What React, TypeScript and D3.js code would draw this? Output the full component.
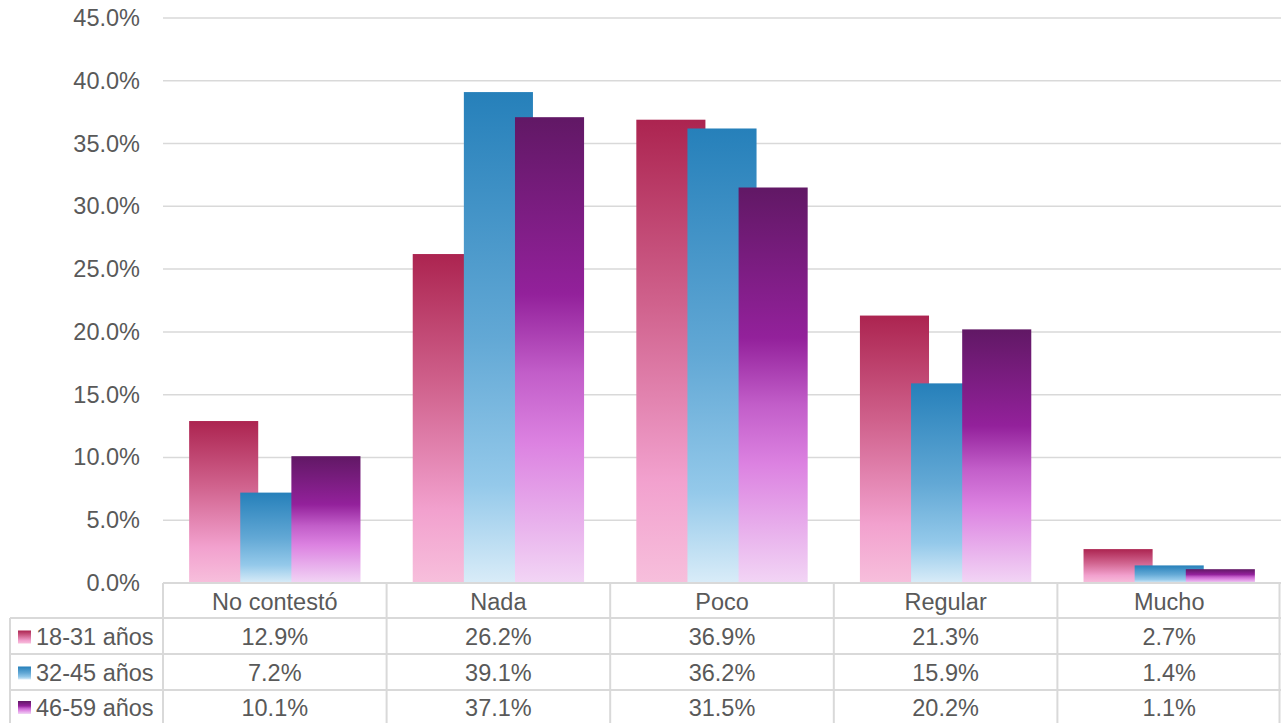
import React, { useEffect } from "react";
import * as d3 from "d3";

const categories = ["No contestó", "Nada", "Poco", "Regular", "Mucho"];
const seriesNames = ["18-31 años", "32-45 años", "46-59 años"];
const values18_31 = [12.9, 26.2, 36.9, 21.3, 2.7];
const values32_45 = [7.2, 39.1, 36.2, 15.9, 1.4];
const values46_59 = [10.1, 37.1, 31.5, 20.2, 1.1];
const yTicks = [0, 5, 10, 15, 20, 25, 30, 35, 40, 45];

const gradients = [
  [
    ["0%", "#ac2450"],
    ["40%", "#d0628d"],
    ["78%", "#f2a1ce"],
    ["100%", "#f7bfdc"],
  ],
  [
    ["0%", "#2680ba"],
    ["50%", "#62a8d5"],
    ["80%", "#94c9ea"],
    ["100%", "#d9ecf8"],
  ],
  [
    ["0%", "#611865"],
    ["38%", "#93219b"],
    ["55%", "#c25ec9"],
    ["70%", "#dc82e1"],
    ["100%", "#f2d5f5"],
  ],
];

export default function App() {
  useEffect(() => {
    document.body.style.margin = "0";
  }, []);

  const W = 1281;
  const H = 723;
  const left = 163;
  const right = 1281;
  const top = 18;
  const bottom = 583;
  const font = "'Liberation Sans', Arial, sans-serif";
  const fs = 23.5;
  const textColor = "#595959";
  const lineColor = "#d9d9d9";

  const series = [values18_31, values32_45, values46_59];

  const x = d3.scaleBand<string>().domain(categories).range([left, right]).padding(0);
  const y = d3.scaleLinear().domain([0, 45]).range([bottom, top]);

  const barW = x.bandwidth() * 0.309;
  const step = barW * 0.74;
  const groupW = barW + step * 2;

  const rowEdges = [583, 618, 654, 690, 726];
  const colEdges = categories.map((c) => x(c)!).concat([right]);

  return (
    <svg width={W} height={H} style={{ display: "block" }} fontFamily={font}>
      <defs>
        {gradients.map((g, i) => (
          <linearGradient key={i} id={`grad${i}`} x1="0" y1="0" x2="0" y2="1">
            {g.map(([o, c]) => (
              <stop key={o} offset={o} stopColor={c} />
            ))}
          </linearGradient>
        ))}
      </defs>
      <rect width={W} height={H} fill="#fff" />
      {yTicks.map((t) => (
        <g key={t}>
          {t > 0 && (
            <line x1={left} x2={right} y1={y(t)} y2={y(t)} stroke={lineColor} strokeWidth={1.5} />
          )}
          <text
            x={140}
            y={y(t)}
            textAnchor="end"
            dominantBaseline="central"
            fontSize={fs}
            fill={textColor}
          >
            {t.toFixed(1)}%
          </text>
        </g>
      ))}
      {categories.map((c, ci) => {
        const cx = x(c)! + x.bandwidth() / 2;
        const start = cx - groupW / 2;
        return (
          <g key={c}>
            {series.map((s, si) => (
              <rect
                key={si}
                x={start + si * step}
                y={y(s[ci])}
                width={barW}
                height={bottom - y(s[ci])}
                fill={`url(#grad${si})`}
              />
            ))}
          </g>
        );
      })}
      {/* table */}
      <g stroke={lineColor} strokeWidth={2} fill="none">
        <line x1={left} x2={right} y1={rowEdges[0]} y2={rowEdges[0]} />
        {rowEdges.slice(1, 4).map((r) => (
          <line key={r} x1={10} x2={right} y1={r} y2={r} />
        ))}
        {colEdges.map((cx, i) => (
          <line
            key={i}
            x1={i === colEdges.length - 1 ? cx - 1.5 : cx}
            x2={i === colEdges.length - 1 ? cx - 1.5 : cx}
            y1={rowEdges[0]}
            y2={H}
          />
        ))}
        <line x1={10} x2={10} y1={rowEdges[1]} y2={H} />
      </g>
      {categories.map((c) => (
        <text
          key={c}
          x={x(c)! + x.bandwidth() / 2}
          y={(rowEdges[0] + rowEdges[1]) / 2 + 1}
          textAnchor="middle"
          dominantBaseline="central"
          fontSize={fs}
          fill={textColor}
        >
          {c}
        </text>
      ))}
      {series.map((s, si) => {
        const cy = (rowEdges[si + 1] + Math.min(rowEdges[si + 2], H)) / 2 + 1;
        return (
          <g key={si}>
            <rect x={18} y={cy - 6.5} width={13} height={13} fill={`url(#grad${si})`} />
            <text
              x={36}
              y={cy}
              dominantBaseline="central"
              fontSize={fs}
              fill={textColor}
            >
              {seriesNames[si]}
            </text>
            {s.map((v, ci) => (
              <text
                key={ci}
                x={x(categories[ci])! + x.bandwidth() / 2}
                y={cy}
                textAnchor="middle"
                dominantBaseline="central"
                fontSize={fs}
                fill={textColor}
              >
                {v.toFixed(1)}%
              </text>
            ))}
          </g>
        );
      })}
    </svg>
  );
}
